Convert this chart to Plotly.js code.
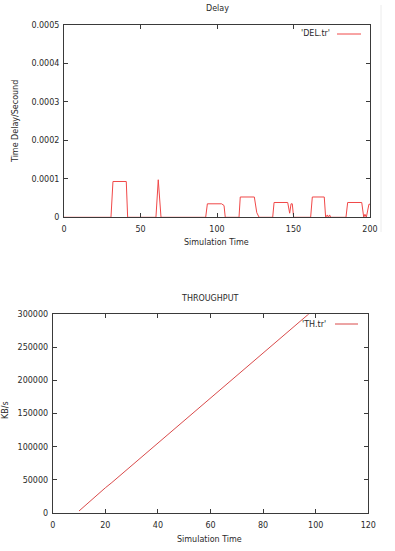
<!DOCTYPE html>
<html>
<head>
<meta charset="utf-8">
<script src="https://cdn.plot.ly/plotly-3.0.1.min.js"></script>
<style>
html,body{margin:0;padding:0;background:#fff;}
#chart{width:395px;height:551px;}
</style>
</head>
<body>
<div id="chart"></div>
<script>
// ---- Delay chart data ----
const delayTime = [0, 30.7, 32, 40.7, 41.6, 60.1, 61.6, 63.4, 92.6, 93.7, 103, 104.6, 105.4,
  114.4, 115.2, 124.4, 126, 127.5, 136.4, 137.3, 146.2, 147.5, 148.4, 149.2, 150.1,
  161.2, 162.3, 170.1, 171, 172.1, 172.8, 173.6, 174.3, 184.3, 185.4, 194.6, 195.9,
  196.7, 197.6, 199.3, 200];
const delayValue = [0, 0, 0.0000931, 0.0000931, 0, 0, 0.0000976, 0, 0, 0.0000351, 0.0000351, 0.0000306, 0,
  0, 0.0000528, 0.0000528, 0.0000121, 0, 0, 0.0000385, 0.0000385, 0.0000106, 0.0000351, 0.0000351, 0,
  0, 0.0000528, 0.0000528, 0, 0.0000061, 0, 0.0000061, 0, 0, 0.0000385, 0.0000385, 0,
  0.0000079, 0, 0.000034, 0.000034];
const delayXTicks = [0, 50, 100, 150, 200];
const delayYTicks = [0, 0.0001, 0.0002, 0.0003, 0.0004, 0.0005];
const delayYTickText = ['0', '0.0001', '0.0002', '0.0003', '0.0004', '0.0005'];

// ---- Throughput chart data ----
const thTime = [10, 12.5, 15, 17.5, 20, 22.5, 25, 27.5, 30, 32.5, 35, 37.5, 40, 42.5, 45, 47.5,
  50, 52.5, 55, 57.5, 60, 62.5, 65, 67.5, 70, 72.5, 75, 77.5, 80, 82.5, 85, 87.5, 90, 92.5, 95, 97.5];
const thValue = [3000, 12000, 21000, 29500, 38000, 46000, 54500, 63000, 71500, 80000, 88500, 97000,
  105000, 114000, 122000, 131000, 139500, 148000, 156500, 165000, 173000, 182000, 190000, 199000,
  207000, 216000, 224000, 233000, 241000, 249500, 258000, 267000, 275000, 283500, 292000, 301000];
const thXTicks = [0, 20, 40, 60, 80, 100, 120];
const thYTicks = [0, 50000, 100000, 150000, 200000, 250000, 300000];
const thYTickText = ['0', '50000', '100000', '150000', '200000', '250000', '300000'];

const W = 395, H = 551;
const px = v => v / W;
const py = v => 1 - v / H;
const FONT = 'DejaVu Sans, sans-serif';
const TXT = '#2a2a2a';
const AX = '#3a3a3a';

const baseAxis = {
  showline: true, mirror: 'ticks', linecolor: AX, linewidth: 1,
  ticks: 'inside', ticklen: 4, tickcolor: AX, tickwidth: 1,
  showgrid: false, zeroline: false, fixedrange: true,
  tickfont: {family: FONT, size: 8, color: TXT}
};

const traces = [
  {x: delayTime, y: delayValue, type: 'scatter', mode: 'lines', xaxis: 'x', yaxis: 'y',
   line: {color: '#f04848', width: 1}, showlegend: false, hoverinfo: 'skip'},
  {x: thTime, y: thValue, type: 'scatter', mode: 'lines', xaxis: 'x2', yaxis: 'y2',
   line: {color: '#d94a4a', width: 1}, showlegend: false, hoverinfo: 'skip'}
];

const layout = {
  width: W, height: H,
  margin: {l: 0, r: 0, t: 0, b: 0},
  paper_bgcolor: '#fff', plot_bgcolor: '#fff',
  showlegend: false,
  xaxis: Object.assign({}, baseAxis, {
    domain: [px(64), px(370)], range: [0, 200], anchor: 'y',
    tickvals: delayXTicks, ticklabelstandoff: 4
  }),
  yaxis: Object.assign({}, baseAxis, {
    domain: [py(217.3), py(25)], range: [0, 0.0005], anchor: 'x',
    tickvals: delayYTicks, ticktext: delayYTickText, ticklabelstandoff: 2
  }),
  xaxis2: Object.assign({}, baseAxis, {
    domain: [px(52.7), px(368.3)], range: [0, 120], anchor: 'y2',
    tickvals: thXTicks, ticklabelstandoff: 4
  }),
  yaxis2: Object.assign({}, baseAxis, {
    domain: [py(513), py(314.3)], range: [0, 300000], anchor: 'x2',
    tickvals: thYTicks, ticktext: thYTickText, ticklabelstandoff: 2
  }),
  annotations: [
    {text: 'Delay', x: px(217), y: py(9), xref: 'paper', yref: 'paper', showarrow: false,
     xanchor: 'center', yanchor: 'middle', font: {family: FONT, size: 8, color: TXT}},
    {text: 'Time Delay/Secound', x: px(15), y: py(122), xref: 'paper', yref: 'paper', showarrow: false,
     textangle: -90, xanchor: 'center', yanchor: 'middle', font: {family: FONT, size: 8, color: TXT}},
    {text: 'Simulation Time', x: px(216), y: py(243), xref: 'paper', yref: 'paper', showarrow: false,
     xanchor: 'center', yanchor: 'middle', font: {family: FONT, size: 8, color: TXT}},
    {text: "'DEL.tr'", x: px(332), y: py(34), xref: 'paper', yref: 'paper', showarrow: false,
     xanchor: 'right', yanchor: 'middle', font: {family: FONT, size: 8, color: TXT}},
    {text: 'THROUGHPUT', x: px(210), y: py(299), xref: 'paper', yref: 'paper', showarrow: false,
     xanchor: 'center', yanchor: 'middle', font: {family: FONT, size: 8, color: TXT}},
    {text: 'KB/s', x: px(5), y: py(410), xref: 'paper', yref: 'paper', showarrow: false,
     textangle: -90, xanchor: 'center', yanchor: 'middle', font: {family: FONT, size: 8, color: TXT}},
    {text: 'Simulation Time', x: px(210), y: py(539), xref: 'paper', yref: 'paper', showarrow: false,
     xanchor: 'center', yanchor: 'middle', font: {family: FONT, size: 8, color: TXT}},
    {text: "'TH.tr'", x: px(328), y: py(324), xref: 'paper', yref: 'paper', showarrow: false,
     xanchor: 'right', yanchor: 'middle', font: {family: FONT, size: 8, color: TXT}}
  ],
  shapes: [
    {type: 'line', xref: 'paper', yref: 'paper', x0: px(337), x1: px(361), y0: py(34), y1: py(34),
     line: {color: '#f04848', width: 1}},
    {type: 'line', xref: 'paper', yref: 'paper', x0: px(335), x1: px(358), y0: py(324), y1: py(324),
     line: {color: '#d94a4a', width: 1}},
    {type: 'line', xref: 'paper', yref: 'paper', x0: px(381), x1: px(381), y0: py(5), y1: py(232),
     line: {color: '#ececec', width: 1}}
  ]
};

Plotly.newPlot('chart', traces, layout, {staticPlot: true, displayModeBar: false});
</script>
</body>
</html>
